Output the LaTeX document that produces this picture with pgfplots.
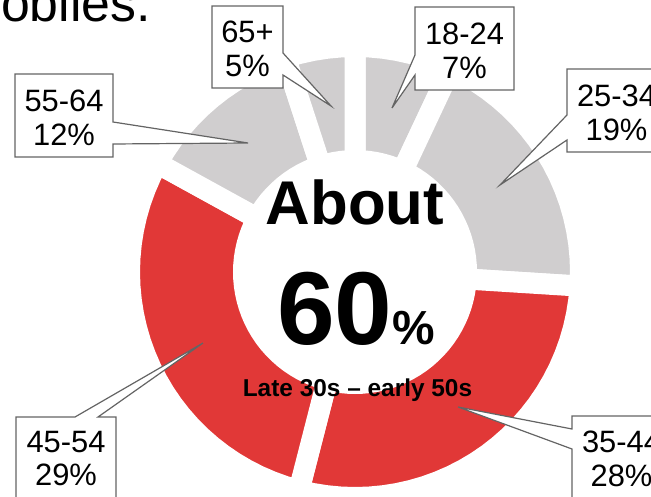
\documentclass[border=0pt]{standalone}
\usepackage{fontspec}
\setmainfont{Liberation Sans}
\usepackage{pgfplots}
\pgfplotsset{compat=1.18}
\definecolor{dred}{RGB}{225,56,55}
\definecolor{dgray}{RGB}{208,206,207}
\definecolor{bgray}{RGB}{100,100,100}
\begin{document}
\begin{tikzpicture}
\begin{axis}[at={(0,0)}, anchor=south west, scale only axis,
  width=651bp, height=497bp,
  xmin=-355, xmax=296, ymin=-225, ymax=272,
  hide axis, clip=true]
% slices: (angle, radius), start at 12 o'clock, clockwise, 1% = 3.6 deg
% 18-24: 7%
\addplot[data cs=polar, fill=dgray, draw=white, line width=21bp, line join=miter] coordinates {
(90,225.5) (86.4,225.5) (82.8,225.5) (79.2,225.5) (75.6,225.5) (72,225.5) (68.4,225.5) (64.8,225.5)
(64.8,111.5) (68.4,111.5) (72,111.5) (75.6,111.5) (79.2,111.5) (82.8,111.5) (86.4,111.5) (90,111.5)
} -- cycle;
% 25-34: 19%
\addplot[data cs=polar, fill=dgray, draw=white, line width=21bp, line join=miter] coordinates {
(64.8,225.5) (61.2,225.5) (57.6,225.5) (54,225.5) (50.4,225.5) (46.8,225.5) (43.2,225.5) (39.6,225.5) (36,225.5) (32.4,225.5) (28.8,225.5) (25.2,225.5) (21.6,225.5) (18,225.5) (14.4,225.5) (10.8,225.5) (7.2,225.5) (3.6,225.5) (0,225.5) (-3.6,225.5)
(-3.6,111.5) (0,111.5) (3.6,111.5) (7.2,111.5) (10.8,111.5) (14.4,111.5) (18,111.5) (21.6,111.5) (25.2,111.5) (28.8,111.5) (32.4,111.5) (36,111.5) (39.6,111.5) (43.2,111.5) (46.8,111.5) (50.4,111.5) (54,111.5) (57.6,111.5) (61.2,111.5) (64.8,111.5)
} -- cycle;
% 35-44: 28%
\addplot[data cs=polar, fill=dred, draw=white, line width=21bp, line join=miter] coordinates {
(-3.6,225.5) (-7.2,225.5) (-10.8,225.5) (-14.4,225.5) (-18,225.5) (-21.6,225.5) (-25.2,225.5) (-28.8,225.5) (-32.4,225.5) (-36,225.5) (-39.6,225.5) (-43.2,225.5) (-46.8,225.5) (-50.4,225.5) (-54,225.5) (-57.6,225.5) (-61.2,225.5) (-64.8,225.5) (-68.4,225.5) (-72,225.5) (-75.6,225.5) (-79.2,225.5) (-82.8,225.5) (-86.4,225.5) (-90,225.5) (-93.6,225.5) (-97.2,225.5) (-100.8,225.5) (-104.4,225.5)
(-104.4,111.5) (-100.8,111.5) (-97.2,111.5) (-93.6,111.5) (-90,111.5) (-86.4,111.5) (-82.8,111.5) (-79.2,111.5) (-75.6,111.5) (-72,111.5) (-68.4,111.5) (-64.8,111.5) (-61.2,111.5) (-57.6,111.5) (-54,111.5) (-50.4,111.5) (-46.8,111.5) (-43.2,111.5) (-39.6,111.5) (-36,111.5) (-32.4,111.5) (-28.8,111.5) (-25.2,111.5) (-21.6,111.5) (-18,111.5) (-14.4,111.5) (-10.8,111.5) (-7.2,111.5) (-3.6,111.5)
} -- cycle;
% 45-54: 29%
\addplot[data cs=polar, fill=dred, draw=white, line width=21bp, line join=miter] coordinates {
(-104.4,225.5) (-108,225.5) (-111.6,225.5) (-115.2,225.5) (-118.8,225.5) (-122.4,225.5) (-126,225.5) (-129.6,225.5) (-133.2,225.5) (-136.8,225.5) (-140.4,225.5) (-144,225.5) (-147.6,225.5) (-151.2,225.5) (-154.8,225.5) (-158.4,225.5) (-162,225.5) (-165.6,225.5) (-169.2,225.5) (-172.8,225.5) (-176.4,225.5) (-180,225.5) (-183.6,225.5) (-187.2,225.5) (-190.8,225.5) (-194.4,225.5) (-198,225.5) (-201.6,225.5) (-205.2,225.5) (-208.8,225.5)
(-208.8,111.5) (-205.2,111.5) (-201.6,111.5) (-198,111.5) (-194.4,111.5) (-190.8,111.5) (-187.2,111.5) (-183.6,111.5) (-180,111.5) (-176.4,111.5) (-172.8,111.5) (-169.2,111.5) (-165.6,111.5) (-162,111.5) (-158.4,111.5) (-154.8,111.5) (-151.2,111.5) (-147.6,111.5) (-144,111.5) (-140.4,111.5) (-136.8,111.5) (-133.2,111.5) (-129.6,111.5) (-126,111.5) (-122.4,111.5) (-118.8,111.5) (-115.2,111.5) (-111.6,111.5) (-108,111.5) (-104.4,111.5)
} -- cycle;
% 55-64: 12%
\addplot[data cs=polar, fill=dgray, draw=white, line width=21bp, line join=miter] coordinates {
(-208.8,225.5) (-212.4,225.5) (-216,225.5) (-219.6,225.5) (-223.2,225.5) (-226.8,225.5) (-230.4,225.5) (-234,225.5) (-237.6,225.5) (-241.2,225.5) (-244.8,225.5) (-248.4,225.5) (-252,225.5)
(-252,111.5) (-248.4,111.5) (-244.8,111.5) (-241.2,111.5) (-237.6,111.5) (-234,111.5) (-230.4,111.5) (-226.8,111.5) (-223.2,111.5) (-219.6,111.5) (-216,111.5) (-212.4,111.5) (-208.8,111.5)
} -- cycle;
% 65+: 5%
\addplot[data cs=polar, fill=dgray, draw=white, line width=21bp, line join=miter] coordinates {
(-252,225.5) (-255.6,225.5) (-259.2,225.5) (-262.8,225.5) (-266.4,225.5) (-270,225.5)
(-270,111.5) (-266.4,111.5) (-262.8,111.5) (-259.2,111.5) (-255.6,111.5) (-252,111.5)
} -- cycle;
% callouts
\addplot[fill=white, draw=bgray, line width=1.2bp, line join=miter] coordinates {
(-143,266) (-72,266) (-72,219) (-24,166) (-72,197) (-72,184) (-143,184)} -- cycle;
\addplot[fill=white, draw=bgray, line width=1.2bp, line join=miter] coordinates {
(60,265) (159,265) (159,182) (60,182) (60,197) (37,164) (60,217)} -- cycle;
\addplot[fill=white, draw=bgray, line width=1.2bp, line join=miter] coordinates {
(-340,198) (-242,198) (-242,150) (-107,129) (-242,128) (-242,115) (-340,115)} -- cycle;
\addplot[fill=white, draw=bgray, line width=1.2bp, line join=miter] coordinates {
(212,203) (311,203) (311,120) (212,120) (212,132) (145,87) (212,157)} -- cycle;
\addplot[fill=white, draw=bgray, line width=1.2bp, line join=miter] coordinates {
(-339,-145) (-280,-145) (-152,-71) (-257,-145) (-239,-145) (-239,-228) (-339,-228)} -- cycle;
\addplot[fill=white, draw=bgray, line width=1.2bp, line join=miter] coordinates {
(217,-144) (316,-144) (316,-227) (217,-227) (217,-177) (103,-135) (217,-157)} -- cycle;
% callout texts
\tikzset{lbl/.style={anchor=center, align=center, inner sep=0pt, font=\fontsize{31}{34}\selectfont}}
\node[lbl] at (axis cs:-107.5,223.5) {65+\\5\%};
\node[lbl] at (axis cs:109.5,221.5) {18-24\\7\%};
\node[lbl] at (axis cs:-291,154.5) {55-64\\12\%};
\node[lbl] at (axis cs:261.5,159.5) {25-34\\19\%};
\node[lbl] at (axis cs:-289,-186.5) {45-54\\29\%};
\node[lbl] at (axis cs:266.5,-186.5) {35-44\\28\%};
% centre texts
\node[anchor=base, inner sep=0pt, font=\bfseries\fontsize{62}{62}\selectfont] at (axis cs:0,47) {About};
\node[anchor=base, inner sep=0pt, font=\bfseries] at (axis cs:1,-73) {{\fontsize{104}{104}\selectfont 60}{\fontsize{48}{48}\selectfont\%}};
\node[anchor=base, inner sep=0pt, font=\bfseries\fontsize{24.5}{24.5}\selectfont] at (axis cs:2.5,-125) {Late 30s – early 50s};
% title (cropped)
\node[anchor=base east, inner sep=0pt, font=\fontsize{52}{52}\selectfont] at (axis cs:-204,250) {Automobiles.};
\end{axis}
\pgfresetboundingbox
\useasboundingbox (0,0) rectangle (651bp,497bp);
\end{tikzpicture}
\end{document}
